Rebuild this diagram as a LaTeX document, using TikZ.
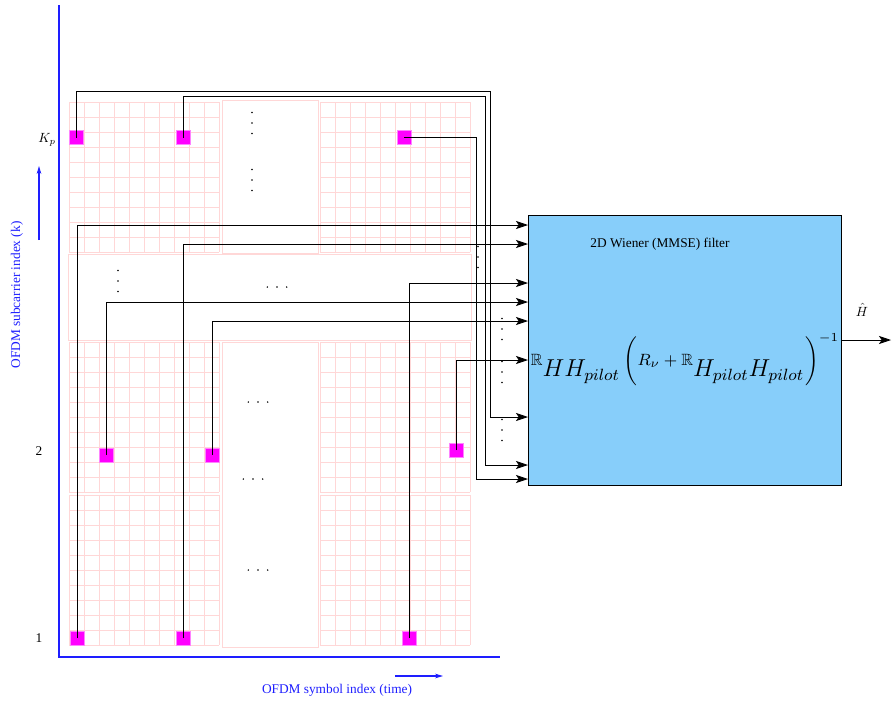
\documentclass[tikz,border=0pt]{standalone}
\usepackage{amssymb}
\usepackage{fontspec}
\setmainfont{Liberation Serif}
\usetikzlibrary{arrows.meta}

\definecolor{gridpink}{RGB}{255,215,215}
\definecolor{filterblue}{RGB}{135,206,250}
\definecolor{pilotmagenta}{RGB}{255,0,255}
\definecolor{pilotedge}{RGB}{255,130,255}
\definecolor{axisblue}{RGB}{30,30,255}

% 10x10 grid of subcarriers/symbols, top left corner at (#1,#2)
\newcommand{\pilotgrid}[2]{%
	\foreach \i in {0,...,10} {
		\draw[gridline] (#1+15*\i,#2) -- ++(0,150);
		\draw[gridline] (#1,#2+15*\i) -- ++(150,0);
	}}
% three dots, vertical and horizontal
\newcommand{\vdotsat}[2]{\foreach \d in {-10.5,0,10.5} \fill (#1,#2+\d) circle (0.6pt);}
\newcommand{\hdotsat}[2]{\foreach \d in {-9.7,0,9.7} \fill (#1+\d,#2) circle (0.6pt);}

\begin{document}
\begin{tikzpicture}[x=0.75pt,y=-0.75pt,
		gridline/.style={gridpink,line width=0.6pt},
		blankblock/.style={draw=gridpink,line width=0.6pt},
		pilot/.style={draw=pilotedge,fill=pilotmagenta,line width=0.6pt,minimum size=10.5pt,inner sep=0pt},
		link/.style={line width=0.6pt},
		arrowin/.style={link,-{Stealth[length=9pt,width=6pt,inset=2pt]}},
		axisline/.style={draw=axisblue,line width=0.8pt}]
		
		\useasboundingbox (0,0) rectangle (892,707);
		
		% Resource grid
		\pilotgrid{69}{102}
		\pilotgrid{320}{102}
		\pilotgrid{69}{342}
		\pilotgrid{320}{342}
		\pilotgrid{69}{495}
		\pilotgrid{320}{495}
		\draw[blankblock] (222,100) rectangle (318,253);
		\draw[blankblock] (68,254) rectangle (471,340);
		\draw[blankblock] (222,342) rectangle (318,647);
		
		% Dots
		\vdotsat{252}{123}
		\vdotsat{252}{180}
		\vdotsat{118}{281}
		\hdotsat{277}{287}
		\hdotsat{258}{402}
		\hdotsat{253}{479}
		\hdotsat{258}{570}
		\vdotsat{478}{257}
		\vdotsat{502}{329}
		\vdotsat{502}{372}
		\vdotsat{502}{430}
		
		% Axes
		\draw[axisline] (59,5) -- (59,657) -- (500,657);
		\draw[axisline,-{Stealth[length=6pt,width=3.5pt]}] (39,240) -- (39,166);
		\node[text=axisblue,rotate=90] (ylab) at (17,295) {OFDM subcarrier index (k)};
		\draw[axisline,-{Stealth[length=6pt,width=3.5pt]}] (395,676) -- (443,676);
		\node[text=axisblue] (xlab) at (337,690) {OFDM symbol index (time)};
		\node (kp) at (47,140) {$K_p$};
		\node (k2) at (39,451) {2};
		\node (k1) at (39,638) {1};
		
		% Pilots
		\node[pilot] (pKa) at (76.5,137.5) {};
		\node[pilot] (pKb) at (183,137.5) {};
		\node[pilot] (pKc) at (404,137.5) {};
		\node[pilot] (p2a) at (106,455) {};
		\node[pilot] (p2b) at (212,455) {};
		\node[pilot] (p2c) at (456.5,450) {};
		\node[pilot] (p1a) at (77,638) {};
		\node[pilot] (p1b) at (183,638) {};
		\node[pilot] (p1c) at (409,638) {};
		
		% Wiener filter
		\node[draw,fill=filterblue,line width=0.6pt,minimum width=234.75pt,minimum height=202.5pt,inner sep=0pt] (filter) at (684.5,350) {};
		\node (title) at (660,244) {2D Wiener (MMSE) filter};
		\node[font=\footnotesize,scale=1.53,transform shape] (eq) at (685,360) {$\mathbb{R}_{\mbox{\large$HH_{pilot}$}}\left(R_\nu+\mathbb{R}_{\mbox{\large$H_{pilot}H_{pilot}$}}\right)^{-1}$};
		
		% Filter inputs
		\coordinate (in1) at (528,225);
		\coordinate (in2) at (528,244);
		\coordinate (in3) at (528,283);
		\coordinate (in4) at (528,302);
		\coordinate (in5) at (528,321);
		\coordinate (in6) at (528,360);
		\coordinate (in7) at (528,417);
		\coordinate (in8) at (528,465);
		\coordinate (in9) at (528,479);
		
		\draw[arrowin] (p1a.center) |- (in1);
		\draw[arrowin] (p1b.center) |- (in2);
		\draw[arrowin] (p1c.center) |- (in3);
		\draw[arrowin] (p2a.center) |- (in4);
		\draw[arrowin] (p2b.center) |- (in5);
		\draw[arrowin] (p2c.center) |- (in6);
		\draw[arrowin] (pKa.center) |- (490,91) |- (in7);
		\draw[arrowin] (pKb.center) |- (485,96) |- (in8);
		\draw[arrowin] (pKc.center) -| (476,479) -- (in9);
		
		% Output
		\coordinate (out) at (891,340);
		\draw[arrowin] (filter.east |- out) -- (out);
		\node[inner sep=1pt] (hhat) at (862,310) {$\hat{H}$};
		
	\end{tikzpicture}
\end{document}
